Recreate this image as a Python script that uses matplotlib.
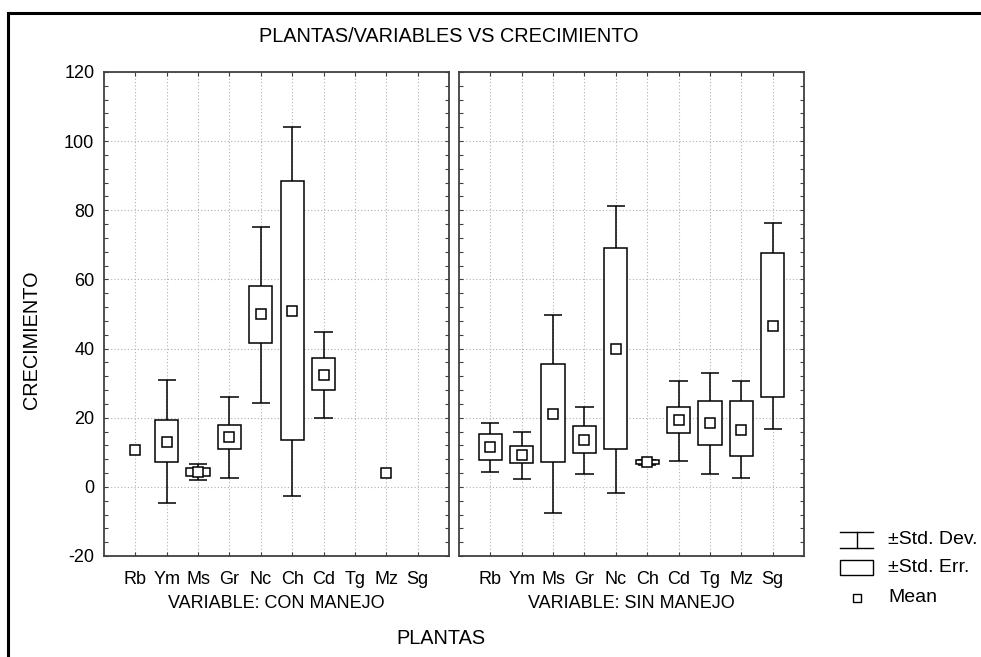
import numpy as np
import matplotlib
matplotlib.use("Agg")
import matplotlib.pyplot as plt
from matplotlib.lines import Line2D
from matplotlib.patches import Rectangle

plt.rcParams['font.family'] = ['Liberation Sans', 'DejaVu Sans']

categories = ["Rb", "Ym", "Ms", "Gr", "Nc", "Ch", "Cd", "Tg", "Mz", "Sg"]
panels = ["VARIABLE: CON MANEJO", "VARIABLE: SIN MANEJO"]
nan = np.nan

# CON MANEJO
con_mean   = [10.6, 13.1, 4.2, 14.5, 49.9, 50.9, 32.5, nan, 4.1, nan]
con_se_lo  = [nan, 7.2, 3.2, 10.9, 41.5, 13.6, 27.9, nan, nan, nan]
con_se_hi  = [nan, 19.4, 5.4, 18.0, 58.1, 88.5, 37.4, nan, nan, nan]
con_sd_lo  = [nan, -4.8, 1.9, 2.7, 24.3, -2.5, 20.0, nan, nan, nan]
con_sd_hi  = [nan, 31.0, 6.5, 25.9, 75.3, 104.2, 44.9, nan, nan, nan]

# SIN MANEJO
sin_mean   = [11.5, 9.2, 21.1, 13.5, 39.8, 7.1, 19.2, 18.5, 16.5, 46.5]
sin_se_lo  = [7.8, 6.9, 7.1, 9.8, 10.9, 6.6, 15.5, 12.2, 8.9, 25.9]
sin_se_hi  = [15.3, 11.7, 35.4, 17.5, 69.1, 7.7, 23.1, 24.8, 24.8, 67.5]
sin_sd_lo  = [4.2, 2.3, -7.5, 3.7, -1.7, 6.4, 7.5, 3.6, 2.5, 16.8]
sin_sd_hi  = [18.6, 15.9, 49.6, 23.2, 81.3, 7.9, 30.6, 33.0, 30.7, 76.2]

yticks = [-20, 0, 20, 40, 60, 80, 100, 120]

W, H = 981, 657
fig = plt.figure(figsize=(W / 100, H / 100), dpi=100)

def fx(px):
    return px / W

def fy(py):
    return 1 - py / H

tf = fig.transFigure
# outer border
fig.add_artist(Line2D([fx(8), fx(8)], [fy(13), 0], color='black', lw=2.2, transform=tf))
fig.add_artist(Line2D([fx(8), 1], [fy(13), fy(13)], color='black', lw=2.2, transform=tf))

frame_col = '#404040'
lw = 1.1
box_w = 0.74
cap_w = 0.58

data = [
    (con_mean, con_se_lo, con_se_hi, con_sd_lo, con_sd_hi),
    (sin_mean, sin_se_lo, sin_se_hi, sin_sd_lo, sin_sd_hi),
]
lefts = [104, 459]
for i, (mean, se_lo, se_hi, sd_lo, sd_hi) in enumerate(data):
    ax = fig.add_axes([fx(lefts[i]), fy(556), 345 / W, 484 / H])
    x = np.arange(1, len(categories) + 1)
    mean = np.array(mean); se_lo = np.array(se_lo); se_hi = np.array(se_hi)
    sd_lo = np.array(sd_lo); sd_hi = np.array(sd_hi)
    # whiskers (±SD)
    ax.vlines(x, sd_lo, sd_hi, color='black', lw=lw, zorder=2)
    ax.hlines(sd_lo, x - cap_w / 2, x + cap_w / 2, color='black', lw=lw, zorder=2)
    ax.hlines(sd_hi, x - cap_w / 2, x + cap_w / 2, color='black', lw=lw, zorder=2)
    # ±SE boxes
    ax.bar(x, se_hi - se_lo, bottom=se_lo, width=box_w, facecolor='white',
           edgecolor='black', linewidth=lw, zorder=3)
    # means
    ax.plot(x, mean, linestyle='none', marker='s', markersize=6.5,
            markerfacecolor='white', markeredgecolor='black', markeredgewidth=lw, zorder=4)

    ax.set_xlim(0, len(categories) + 1)
    ax.set_ylim(-20, 120)
    ax.set_xticks(x)
    ax.set_xticklabels(categories, fontsize=13)
    ax.set_yticks(yticks)
    ax.set_yticks(np.arange(-20, 121, 4), minor=True)
    ax.grid(True, which='major', linestyle=(0, (1, 2)), color='#b0b0b0', lw=0.8, zorder=0)
    ax.tick_params(axis='both', which='both', direction='in', top=True, right=True,
                   length=3, width=0.8, color=frame_col)
    ax.tick_params(axis='x', pad=10.5)
    ax.tick_params(axis='y', pad=7)
    if i == 0:
        ax.set_yticklabels([str(v) for v in yticks], fontsize=13)
    else:
        ax.set_yticklabels([])
    for s in ax.spines.values():
        s.set_color(frame_col)
        s.set_linewidth(1.3)
    ax.set_axisbelow(True)
    fig.text(fx(lefts[i] + 172.5), fy(603), panels[i], ha='center', va='center', fontsize=13)

fig.text(fx(449), fy(37), "PLANTAS/VARIABLES VS CRECIMIENTO", ha='center', va='center', fontsize=14.3)
fig.text(fx(441), fy(639), "PLANTAS", ha='center', va='center', fontsize=14.3)
fig.text(fx(32), fy(340), "CRECIMIENTO", ha='center', va='center', rotation=90, fontsize=14.3)

# legend
lx0, lx1 = 840, 873
lxc = (lx0 + lx1) / 2
fig.add_artist(Line2D([fx(lx0), fx(lx1)], [fy(532), fy(532)], color='black', lw=1, transform=tf))
fig.add_artist(Line2D([fx(lx0), fx(lx1)], [fy(548), fy(548)], color='black', lw=1, transform=tf))
fig.add_artist(Line2D([fx(lxc), fx(lxc)], [fy(532), fy(548)], color='black', lw=1, transform=tf))
fig.text(fx(888), fy(540), "±Std. Dev.", ha='left', va='center', fontsize=14)
fig.add_artist(Rectangle((fx(lx0), fy(575)), (lx1 - lx0) / W, 15 / H, facecolor='white',
                         edgecolor='black', lw=1, transform=tf))
fig.text(fx(888), fy(567), "±Std. Err.", ha='left', va='center', fontsize=14)
fig.add_artist(Line2D([fx(lxc)], [fy(598)], marker='s', markersize=6, markerfacecolor='white',
                      markeredgecolor='black', markeredgewidth=1, linestyle='none', transform=tf))
fig.text(fx(888), fy(598), "Mean", ha='left', va='center', fontsize=14)

fig.savefig("out.png", dpi=100)
